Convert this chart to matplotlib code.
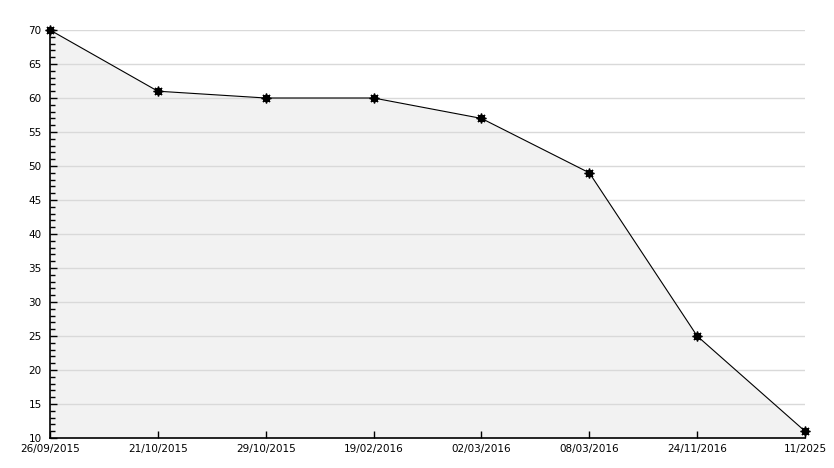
import matplotlib
matplotlib.use("Agg")
import matplotlib.pyplot as plt
from matplotlib.ticker import MultipleLocator

dates = ["26/09/2015", "21/10/2015", "29/10/2015", "19/02/2016",
         "02/03/2016", "08/03/2016", "24/11/2016", "11/2025"]
values = [70, 61, 60, 60, 57, 49, 25, 11]

W, H = 834, 468
fig = plt.figure(figsize=(W / 100, H / 100), dpi=100)
ax = fig.add_axes([50 / W, (H - 438) / H, (805 - 50) / W, (438 - 30) / H])

x = list(range(len(values)))
ax.set_xlim(0, len(values) - 1)
ax.set_ylim(10, 70)

for y in range(15, 71, 5):
    ax.axhline(y, color="#d9d9d9", lw=1, zorder=1)

ax.fill_between(x, values, 10, color="#f2f2f2", zorder=0.5, lw=0)
ax.plot(x, values, color="black", lw=0.8, zorder=3, clip_on=False)
ax.plot(x, values, ls="none", marker="8", ms=4.5, color="black", zorder=4, clip_on=False)
ax.plot(x, values, ls="none", marker=(8, 2, 0), ms=7, mew=1, color="black", zorder=4, clip_on=False)

ax.set_xticks(x)
ax.set_xticklabels(dates, fontsize=7.5)
ax.yaxis.set_major_locator(MultipleLocator(5))
ax.yaxis.set_minor_locator(MultipleLocator(1))
ax.tick_params(axis="y", which="major", direction="in", length=5, width=1, labelsize=7.5, pad=6)
ax.tick_params(axis="y", which="minor", direction="in", length=3.5, width=1)
ax.tick_params(axis="x", which="major", direction="in", length=5, width=1, pad=4)

for s in ["top", "right"]:
    ax.spines[s].set_visible(False)
for s in ["left", "bottom"]:
    ax.spines[s].set_linewidth(1.2)
ax.set_facecolor("white")

fig.savefig("out.png", dpi=100)
